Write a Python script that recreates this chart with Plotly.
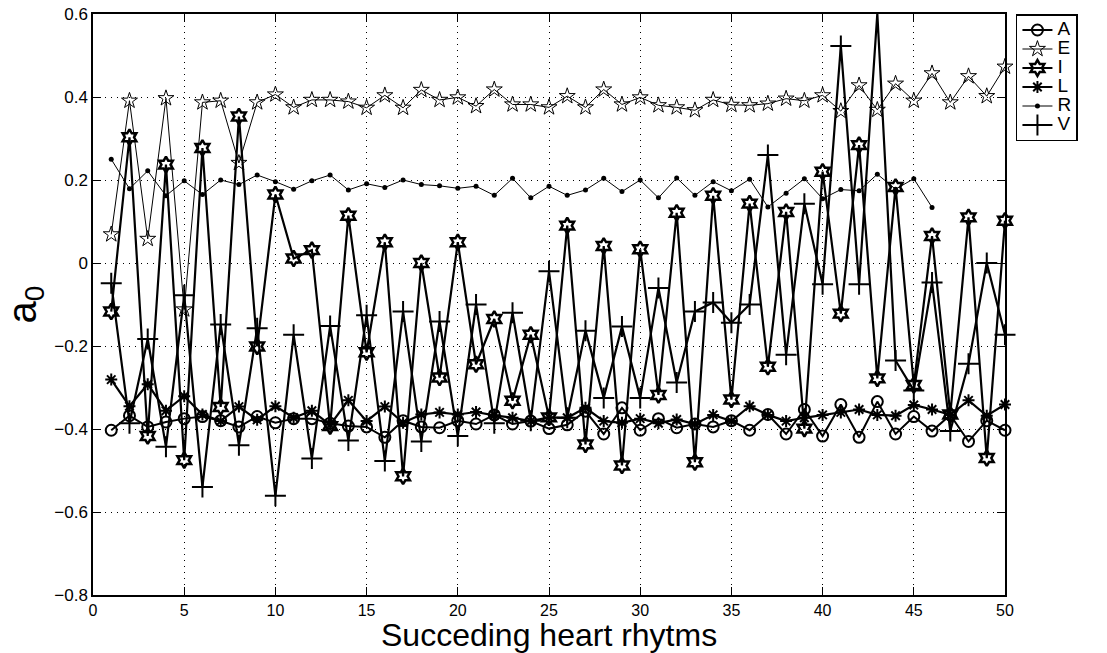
import plotly.graph_objects as go

x = list(range(1, 51))
A = [-0.403,-0.368,-0.395,-0.383,-0.375,-0.37,-0.38,-0.395,-0.37,-0.385,
     -0.375,-0.375,-0.386,-0.393,-0.395,-0.42,-0.38,-0.395,-0.397,-0.38,
     -0.388,-0.366,-0.388,-0.381,-0.399,-0.39,-0.357,-0.412,-0.349,-0.403,
     -0.375,-0.397,-0.388,-0.395,-0.38,-0.403,-0.365,-0.412,-0.353,-0.417,
     -0.341,-0.42,-0.334,-0.412,-0.37,-0.405,-0.366,-0.43,-0.38,-0.403]
E = [0.069,0.391,0.058,0.397,-0.112,0.387,0.391,0.241,0.387,0.406,
     0.375,0.393,0.393,0.389,0.374,0.404,0.374,0.417,0.393,0.399,
     0.378,0.418,0.382,0.382,0.375,0.402,0.375,0.418,0.382,0.399,
     0.38,0.375,0.368,0.393,0.381,0.38,0.384,0.396,0.391,0.404,
     0.366,0.428,0.369,0.432,0.391,0.457,0.387,0.45,0.402,0.473]
I = [-0.117,0.303,-0.417,0.237,-0.475,0.277,-0.347,0.353,-0.201,0.165,
     0.011,0.031,-0.393,0.114,-0.215,0.05,-0.514,0.0,-0.276,0.05,
     -0.244,-0.135,-0.332,-0.173,-0.372,0.09,-0.437,0.041,-0.488,0.033,
     -0.318,0.121,-0.48,0.162,-0.329,0.143,-0.25,0.123,-0.399,0.22,
     -0.122,0.284,-0.278,0.183,-0.294,0.065,-0.365,0.11,-0.47,0.102]
L = [-0.281,-0.345,-0.292,-0.356,-0.321,-0.365,-0.381,-0.346,-0.378,-0.345,
     -0.373,-0.356,-0.39,-0.331,-0.381,-0.346,-0.385,-0.365,-0.36,-0.365,
     -0.359,-0.367,-0.373,-0.381,-0.372,-0.373,-0.349,-0.381,-0.385,-0.375,
     -0.386,-0.377,-0.388,-0.366,-0.381,-0.345,-0.366,-0.381,-0.373,-0.366,
     -0.36,-0.353,-0.366,-0.368,-0.342,-0.353,-0.366,-0.331,-0.368,-0.341]
R = [0.25,0.179,0.222,0.162,0.198,0.165,0.2,0.189,0.212,0.196,
     0.178,0.198,0.212,0.176,0.191,0.182,0.2,0.189,0.186,0.18,
     0.185,0.163,0.204,0.157,0.185,0.163,0.176,0.204,0.172,0.2,
     0.157,0.205,0.163,0.196,0.174,0.202,0.135,0.168,0.203,0.155,
     0.177,0.174,0.214,0.178,0.203,0.134]
V = [-0.049,-0.386,-0.183,-0.443,-0.078,-0.54,-0.148,-0.439,-0.157,-0.561,
     -0.173,-0.471,-0.152,-0.428,-0.126,-0.477,-0.117,-0.43,-0.141,-0.417,
     -0.1,-0.386,-0.12,-0.38,-0.02,-0.373,-0.163,-0.325,-0.153,-0.325,
     -0.06,-0.288,-0.117,-0.095,-0.144,-0.1,0.26,-0.221,0.143,-0.051,
     0.523,-0.051,0.601,-0.235,-0.307,-0.047,-0.405,-0.243,0.0,-0.173]

FONT = "Liberation Sans, Arial, Helvetica, sans-serif"

series = [
    ("A", A, "circle-open", 11, 2.0, 2.0),
    ("E", E, "star-open", 12, 1.0, 1.0),
    ("I", I, "hexagram-open", 12, 2.5, 2.2),
    ("L", L, "asterisk-open", 10, 2.0, 2.2),
    ("R", R, "circle", 5, 0.0, 1.0),
    ("V", V, "cross-thin-open", 15, 2.0, 2.2),
]

fig = go.Figure()
for name, vals, sym, size, mlw, lw in series:
    fig.add_trace(go.Scatter(
        x=x[:len(vals)], y=vals,
        name='<span style="font-size:19px">%s</span>' % name,
        mode="lines+markers",
        line=dict(color="black", width=lw),
        marker=dict(symbol=sym, size=size, color="black",
                    line=dict(color="black", width=mlw)),
        cliponaxis=False,
    ))

axis_common = dict(
    showline=True, linecolor="black", linewidth=1.5, mirror="allticks",
    ticks="inside", ticklen=8, tickwidth=1, tickcolor="black",
    showgrid=True, gridcolor="black", gridwidth=1, griddash="1px,5px",
    zeroline=False, automargin=False,
)

fig.update_xaxes(range=[0, 50], dtick=5, tick0=0,
                 tickfont=dict(family=FONT, size=16, color="black"),
                 **axis_common)
fig.update_yaxes(range=[-0.8, 0.6], dtick=0.2, tick0=0,
                 tickfont=dict(family=FONT, size=17, color="black"),
                 title=dict(text="a<sub>0</sub>",
                            font=dict(family=FONT, size=40, color="black"),
                            standoff=6),
                 **axis_common)

fig.add_annotation(
    text="Succeding heart rhytms", xref="paper", yref="paper",
    x=0.5, y=-0.068, xanchor="center", yanchor="middle", showarrow=False,
    font=dict(family=FONT, size=32, color="black"),
)

fig.update_layout(
    width=1107, height=653,
    margin=dict(l=93, r=102, t=14, b=58),
    paper_bgcolor="white", plot_bgcolor="white",
    showlegend=True,
    legend=dict(x=1.012, y=1, xanchor="left", yanchor="top",
                bgcolor="white", bordercolor="black", borderwidth=1.5,
                font=dict(family=FONT, size=12, color="black"),
                tracegroupgap=0),
)

fig.write_html("out.html")
